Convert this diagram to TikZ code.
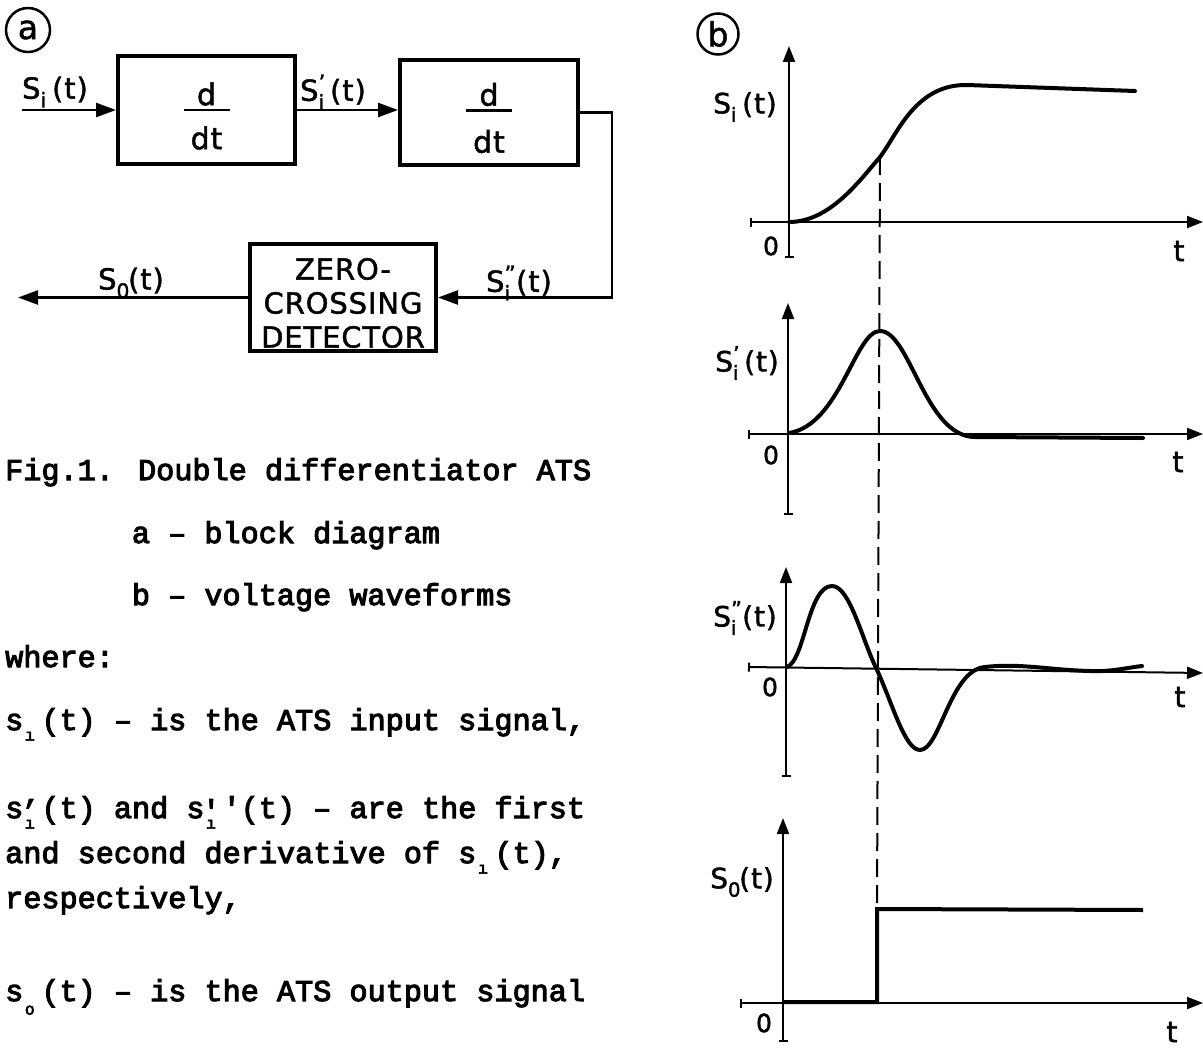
\documentclass[tikz,border=0pt]{standalone}
\usepackage{fontspec}
\usepackage{graphicx}
\usetikzlibrary{arrows.meta}
\newfontfamily\lf[LetterSpace=3,FakeBold=1.5]{DejaVu Sans}
\newfontfamily\tw[FakeBold=3.5]{Liberation Mono}
% S with subscript #1 and superscript #2, then (t)
\newcommand\sig[2]{S\makebox[0.4em][l]{\raisebox{-0.3em}{\scalebox{0.7}{#1}}}\hspace{-0.4em}\makebox[0.4em][l]{\raisebox{0.36em}{\scalebox{0.75}{#2}}}(t)}
% typewriter column with subscript (and optional prime)
\newcommand\tsub[2][-0.35em]{\makebox[0.6em][l]{\kern0.05em\raisebox{#1}{\scalebox{0.55}{#2}}}}
\newcommand\tsubp[2]{\makebox[0.6em][l]{\kern0.05em\raisebox{-0.35em}{\scalebox{0.55}{#1}}}\hspace{-0.6em}\makebox[0.6em][l]{\kern-0.08em\raisebox{-0.1em}{#2}}}
\begin{document}
\begin{tikzpicture}[x=1pt,y=-1pt,
  blk/.style={draw,line width=4pt,inner sep=0pt},
  conn/.style={line width=2.5pt,-{Triangle[length=20pt,width=14pt]}},
  lbl/.style={font=\lf\fontsize{29pt}{29pt}\selectfont,inner sep=0pt},
  frc/.style={font=\lf\fontsize{30pt}{30pt}\selectfont,inner sep=0pt},
  glbl/.style={font=\lf\fontsize{28pt}{28pt}\selectfont,inner sep=0pt},
  zero/.style={font=\lf\fontsize{25pt}{25pt}\selectfont,inner sep=0pt},
  tlab/.style={font=\lf\fontsize{29pt}{29pt}\selectfont,inner sep=0pt},
  axis/.style={line width=2pt,{Bar[width=9pt]}-{Triangle[length=16pt,width=12pt]}},
  wave/.style={line width=4pt,line join=round,line cap=round},
  tw/.style={font=\tw\fontsize{30.2pt}{30.2pt}\selectfont,inner sep=0pt,anchor=base west},
  circ/.style={draw,circle,line width=2.5pt,inner sep=0pt,font=\lf\fontsize{33pt}{33pt}\selectfont}]
\useasboundingbox (0,0) rectangle (1203,1049);

% ---------- panel a ----------
\node[circ,minimum size=44pt] (ca) at (28,30) {a};
\node[blk,minimum width=177pt,minimum height=108pt] (b1) at (206.5,110) {};
\node[blk,minimum width=178pt,minimum height=105pt] (b2) at (489,112.5) {};
\node[blk,minimum width=186pt,minimum height=107pt] (zcd) at (343,297.5) {};
\node[align=center,inner sep=0pt,font=\lf\fontsize{29pt}{34pt}\selectfont] (zcdt)
  at ([yshift=-5.5pt]zcd.center) {ZERO-\\CROSSING\\DETECTOR};
% fractions d/dt
\node[frc] (b1n) at ([yshift=16pt]b1.center) {d};
\node[frc] (b1d) at ([yshift=-28pt]b1.center) {dt};
\draw[line width=2.5pt] ([xshift=-23pt]b1.center) -- ([xshift=23pt]b1.center);
\node[frc] (b2n) at ([yshift=18pt]b2.center) {d};
\node[frc] (b2d) at ([yshift=-29pt]b2.center) {dt};
\draw[line width=2.5pt] ([xshift=-23pt,yshift=2pt]b2.center) -- ([xshift=23pt,yshift=2pt]b2.center);
% connectors
\coordinate (in) at (22,110);
\coordinate (out) at (18,297.5);
\coordinate (rt) at (612,200);
\draw[conn] (in) -- (b1.west);
\draw[conn] (b1.east) -- (b1.east -| b2.west);
\draw[conn] (b2.east) -- (b2.east -| rt) -- (rt |- zcd.east) -- (zcd.east);
\draw[conn] (zcd.west) -- (out);
% labels
\node[lbl] (lsi) at (55,92) {\sig{i}{}};
\node[lbl] (lsi1) at (333,92) {\sig{i}{’}};
\node[lbl] (lsi2) at (519,283) {\sig{i}{”}};
\node[lbl] (lso) at (131,283) {\sig{0}{}};

% ---------- caption text ----------
\node[tw] (t1) at (5,480) {Fig.1. Double differentiator ATS};
\node[tw] (t2) at (131.7,543) {a – block diagram};
\node[tw] (t3) at (131.7,605) {b – voltage waveforms};
\node[tw] (t4) at (5,667) {where:};
\node[tw] (t5) at (5,730) {s\tsub{ı}(t) – is the ATS input signal,};
\node[tw] (t6) at (5,818) {s\tsubp{ı}{’}(t) and s\tsubp{ı}{'}'(t) – are the first};
\node[tw] (t7) at (5,863) {and second derivative of s\tsub{ı}(t),};
\node[tw] (t8) at (5,908) {respectively,};
\node[tw] (t9) at (5,1001) {s\tsub[-0.45em]{o}(t) – is the ATS output signal};

% ---------- panel b ----------
\node[circ,minimum size=41pt] (cb) at (718,34) {b};
% graph 1
\draw[axis] (750,222) -- (1203,222);
\draw[axis] (789,258) -- (789,46);
\node[glbl] (g1y) at (745,107) {\sig{i}{}};
\node[zero] (g1o) at (771,246) {0};
\node[tlab] (g1t) at (1179,251) {t};
\draw[wave] (789,222) .. controls (830,222) and (860,180) .. (880,157)
  .. controls (897,135) and (915,84) .. (967,85) -- (1135,91);
% graph 2
\draw[axis] (748,434) -- (1203,434);
\draw[axis] (788,515) -- (788,303);
\node[glbl] (g2y) at (747,363) {\sig{i}{’}};
\node[zero] (g2o) at (771,455) {0};
\node[tlab] (g2t) at (1178,462) {t};
\draw[wave] (789,433) .. controls (840,425) and (855,331) .. (880,331)
  .. controls (910,331) and (925,437) .. (975,437) -- (1143,438);
% graph 3
\draw[axis] (748,667) -- (1203,673);
\draw[axis] (786,777) -- (786,567);
\node[glbl] (g3y) at (745,618) {\sig{i}{”}};
\node[zero] (g3o) at (770,687) {0};
\node[tlab] (g3t) at (1180,697) {t};
\draw[wave] (787,667) .. controls (805,660) and (808,586) .. (832,586)
  .. controls (850,586) and (862,640) .. (877,670)
  .. controls (893,705) and (905,750) .. (920,750)
  .. controls (940,750) and (950,670) .. (985,667)
  .. controls (1020,663) and (1050,670) .. (1090,671)
  .. controls (1110,672) and (1125,668) .. (1142,666);
% graph 4
\draw[axis] (740,1003) -- (1203,1003);
\draw[axis] (783,1042) -- (783,818);
\node[glbl] (g4y) at (742,882) {\sig{0}{}};
\node[zero] (g4o) at (764,1023) {0};
\node[tlab] (g4t) at (1172,1032) {t};
\draw[wave,line cap=butt,line join=miter] (783,1002) -- (877,1002) -- (877,909) -- (1143,910);
% dashed marker
\coordinate (dtop) at (880,157);
\coordinate (dbot) at (877,907);
\draw[line width=2pt,dash pattern=on 18pt off 8pt] (dtop) -- (dbot);
\end{tikzpicture}
\end{document}
